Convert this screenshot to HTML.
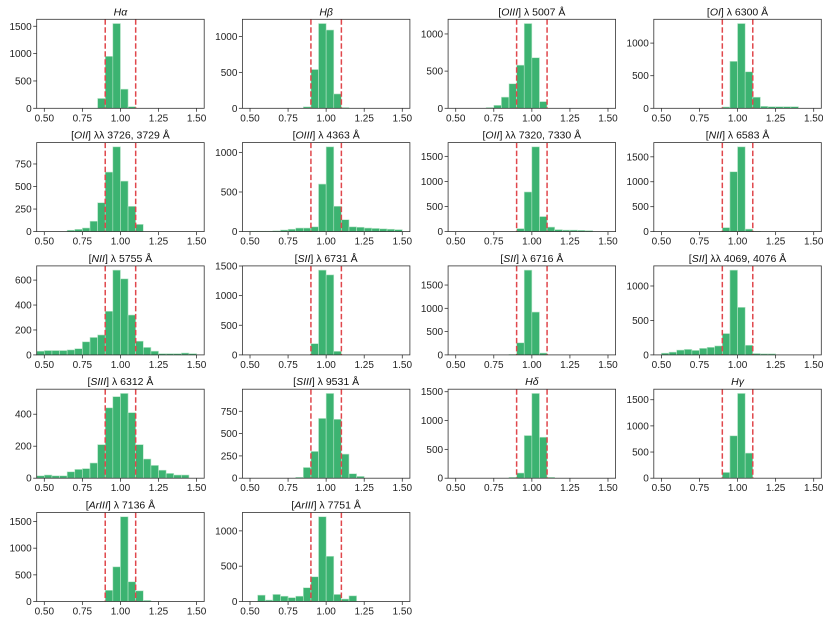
<!DOCTYPE html>
<html><head><meta charset="utf-8"><style>
body{margin:0;background:#fff}
svg{display:block;font-family:"Liberation Sans","DejaVu Sans",sans-serif}
</style></head><body>
<svg id="fig" width="830" height="623" viewBox="0 0 830 623"></svg>
<script>
const titles=[["","Hα",""],["","Hβ",""],["[","OIII","] λ 5007 Å"],["[","OI","] λ 6300 Å"],
["[","OII","] λλ 3726, 3729 Å"],["[","OIII","] λ 4363 Å"],["[","OII","] λλ 7320, 7330 Å"],["[","NII","] λ 6583 Å"],
["[","NII","] λ 5755 Å"],["[","SII","] λ 6731 Å"],["[","SII","] λ 6716 Å"],["[","SII","] λλ 4069, 4076 Å"],
["[","SIII","] λ 6312 Å"],["[","SIII","] λ 9531 Å"],["","Hδ",""],["","Hγ",""],
["[","ArIII","] λ 7136 Å"],["[","ArIII","] λ 7751 Å"]];
const binStart=0.45, binWidth=0.05;
const counts=[
[0,0,0,0,0,0,0,0,180,950,1550,350,30],
[0,0,0,0,0,0,0,0,20,540,1180,1090,200,10],
[0,0,0,0,0,10,40,150,330,580,1140,680,90],
[0,0,0,0,0,0,0,0,0,20,720,1300,560,170,30,25,25,25,25],
[0,0,0,0,15,25,40,115,320,660,940,560,280,80],
[0,5,5,5,10,20,30,45,45,60,600,1070,320,150,60,55,45,40,35,30,25],
[0,0,0,0,0,0,0,0,0,60,790,1690,300,90,40,30,30,25,20],
[0,0,0,0,0,0,0,0,0,80,1200,1700,50,5],
[30,35,35,35,40,50,105,140,160,350,680,610,320,110,60,30,10,10,10,15,10],
[0,0,0,0,0,0,0,0,0,190,1430,1350,60],
[0,0,0,0,0,0,0,0,10,260,1820,920,40],
[0,25,40,70,80,65,95,110,130,310,1230,690,140,20,15,15],
[15,20,15,15,40,55,60,95,210,440,510,530,410,210,120,80,50,30,20,20],
[0,0,0,0,0,0,0,10,120,300,670,950,660,270,50,20],
[0,0,0,0,0,0,0,0,15,90,740,1470,710,15],
[0,0,0,0,0,0,0,0,0,110,810,1620,480],
[0,0,0,0,0,0,0,0,0,210,650,1590,370,200,20],
[0,0,90,20,100,75,55,75,195,350,1200,640,100,35,80]];
const yTicks=[[0,500,1000,1500],[0,500,1000],[0,500,1000],[0,500,1000],
[0,250,500,750],[0,500,1000],[0,500,1000,1500],[0,500,1000,1500],
[0,200,400,600],[0,500,1000,1500],[0,500,1000,1500],[0,500,1000],
[0,200,400],[0,250,500,750],[0,500,1000,1500],[0,500,1000,1500],
[0,500,1000,1500],[0,500,1000]];
const xTicks=[0.5,0.75,1.0,1.25,1.5];
const xTickLabels=["0.50","0.75","1.00","1.25","1.50"];
const cutLines=[0.9,1.1];

const NS="http://www.w3.org/2000/svg";
const svg=document.getElementById('fig');
function mk(tag,at,parent){const e=document.createElementNS(NS,tag);for(const k in at)e.setAttribute(k,at[k]);(parent||svg).appendChild(e);return e;}
const X0=0.45,X1=1.55,W=167.5,H=89;
counts.forEach((vals,p)=>{
  const c=p%4,r=Math.floor(p/4);
  const left=36.7+c*205.7,bottom=108.3+r*123.3,top=bottom-H;
  const ymax=Math.max(...vals)*1.05;
  const xs=v=>left+(v-X0)/(X1-X0)*W;
  const ys=v=>bottom-v/ymax*H;
  const g=mk('g',{});
  
  
  vals.forEach((v,i)=>{
    if(v<=0)return;
    const x0=xs(binStart+i*binWidth),x1=xs(binStart+(i+1)*binWidth);
    const b=mk('rect',{x:x0,y:ys(v),width:x1-x0,height:bottom-ys(v),fill:'#3cb371',stroke:'#b9e6c9','stroke-width':0.6},g);
    
    
  });
  cutLines.forEach(v=>{
    const l=mk('line',{x1:xs(v),x2:xs(v),y1:top,y2:bottom,stroke:'#e0474c','stroke-width':1.5,'stroke-dasharray':'5.5,2.5'},g);
    
    
  });
  const fr=mk('rect',{x:left,y:top,width:W,height:H,fill:'none',stroke:'#333','stroke-width':0.8},g);
  
  
  xTicks.forEach((v,i)=>{
    mk('line',{x1:xs(v),x2:xs(v),y1:bottom,y2:bottom+3.5,stroke:'#333','stroke-width':0.8},g);
    const t=mk('text',{x:xs(v),y:bottom+13,'font-size':10,'text-anchor':'middle',fill:'#222'},g);
    t.textContent=xTickLabels[i];
    
    
  });
  yTicks[p].forEach(v=>{
    mk('line',{x1:left-3.5,x2:left,y1:ys(v),y2:ys(v),stroke:'#333','stroke-width':0.8},g);
    const t=mk('text',{x:left-5,y:ys(v)+3.5,'font-size':10,'text-anchor':'end',fill:'#222'},g);
    t.textContent=v;
    
    
  });
  const tt=mk('text',{x:left+W/2,y:top-4,'font-size':10.5,'text-anchor':'middle',fill:'#111'},g);
  
  
  const [a,b,cc]=titles[p];
  if(a){const s=mk('tspan',{},tt);s.textContent=a;}
  const s2=mk('tspan',{'font-style':'italic'},tt);s2.textContent=b;
  if(cc){const s=mk('tspan',{},tt);s.textContent=cc;}
});
</script>
</body></html>
